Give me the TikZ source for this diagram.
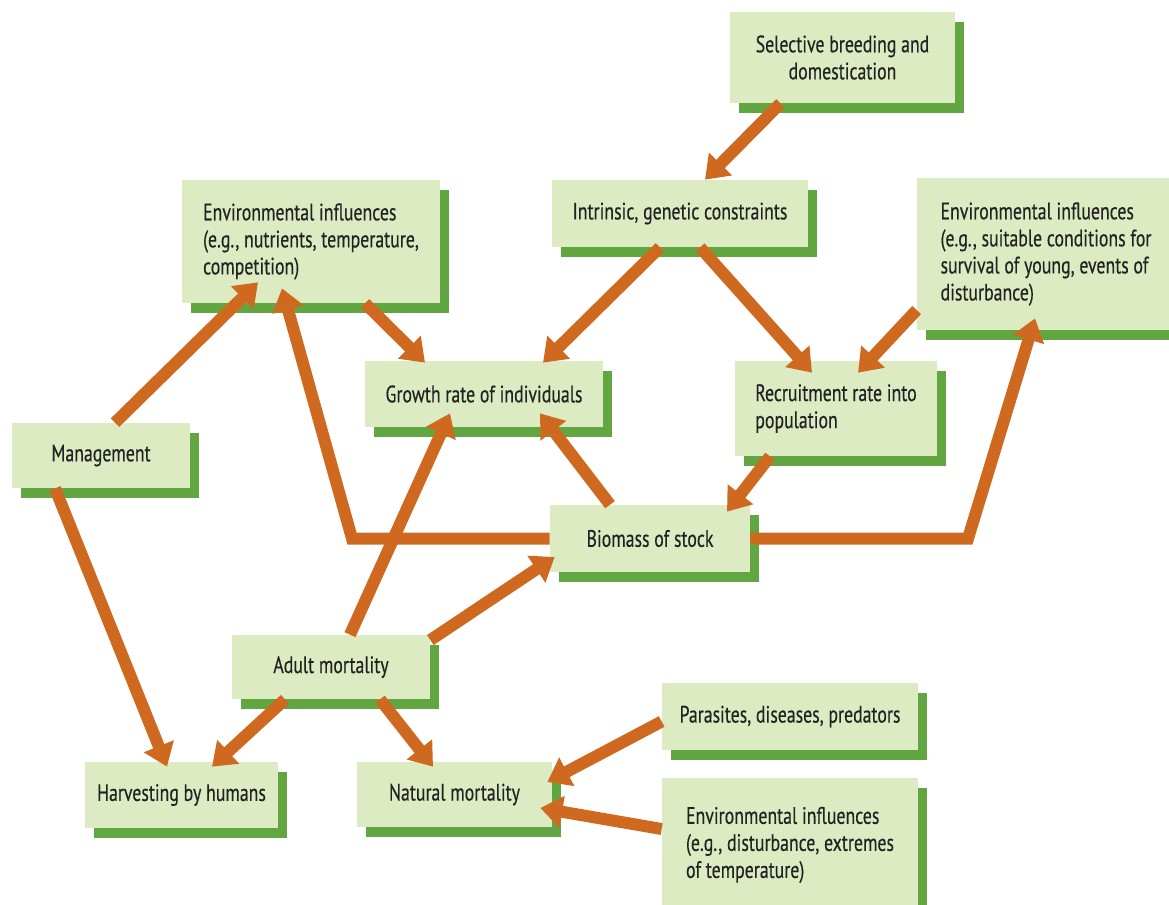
\documentclass[tikz,border=0pt]{standalone}
\usepackage{fontspec}
\setmainfont{PT Sans}[FakeStretch=0.75, FakeBold=0.35]
\usepackage{tikz}
\usetikzlibrary{arrows.meta,calc,shadows}
\definecolor{boxfill}{RGB}{220, 235, 194}
\definecolor{boxshade}{RGB}{98, 166, 66}
\definecolor{flow}{RGB}{208, 105, 32}
\definecolor{ink}{RGB}{34, 34, 34}

\begin{document}
\begin{tikzpicture}[
    x=0.02cm, y=-0.02cm,
    box/.style={rectangle, fill=boxfill, text=ink, inner sep=0pt,
                general shadow={fill=boxshade, shadow xshift=0.18cm, shadow yshift=-0.2cm},
                font=\fontsize{13.5}{15.4}\selectfont},
    wide/.style={box, align=left},
    arrow/.style={-{Triangle[length=0.44cm, width=0.62cm]}, line width=0.24cm, flow}
]
\useasboundingbox (0,0) rectangle (1169,904);

% Top row
\node[box, align=center, minimum width=4.5cm, minimum height=1.82cm] (sel) at (842.5,57.5)
    {Selective breeding and\\domestication};
\node[box, minimum width=5.12cm, minimum height=1.34cm] (gen) at (680,213.5)
    {Intrinsic, genetic constraints};
\node[wide, minimum width=5.16cm, minimum height=2.46cm] (envA) at (311,241.5)
    {Environmental influences\\(e.g., nutrients, temperature,\\competition)};
\node[wide, minimum width=5.16cm, minimum height=3.04cm] (envB) at (1046,254)
    {Environmental influences\\(e.g., suitable conditions for\\survival of young, events of\\disturbance)};

% Middle row
\node[box, minimum width=4.76cm, minimum height=1.32cm] (grow) at (484,394)
    {Growth rate of individuals};
\node[wide, minimum width=4.04cm, minimum height=1.9cm] (recr) at (836,408.5)
    {Recruitment rate into\\population};
\node[box, minimum width=3.56cm, minimum height=1.3cm] (mgmt) at (101,455.5)
    {Management};
\node[box, minimum width=4cm, minimum height=1.34cm] (bio) at (650,538.5)
    {Biomass of stock};

% Bottom row
\node[box, minimum width=3.96cm, minimum height=1.28cm] (adult) at (331,667)
    {Adult mortality};
\node[box, minimum width=3.86cm, minimum height=1.32cm] (harv) at (181.5,795)
    {Harvesting by humans};
\node[box, minimum width=3.9cm, minimum height=1.3cm] (nat) at (454.5,794.5)
    {Natural mortality};
\node[box, minimum width=5.12cm, minimum height=1.34cm] (para) at (790,716.5)
    {Parasites, diseases, predators};
\node[wide, minimum width=5.12cm, minimum height=2.68cm] (envC) at (790,845)
    {Environmental influences\\(e.g., disturbance, extremes\\of temperature)};

% Arrows
\draw[arrow] ($(sel.south)+(-62,0)$) -- ($(gen.north)+(25,0)$);
\draw[arrow] ($(gen.south)+(-20,0)$) -- ($(grow.north)+(59,2)$);
\draw[arrow] ($(gen.south)+(20,0)$) -- ($(recr.north)+(-24,12)$);
\draw[arrow] ($(envB.west)+(0,56)$) -- ($(recr.north)+(22,12)$);
\draw[arrow] ($(envA.south)+(54,0)$) -- ($(grow.north)+(-59,2)$);
\draw[arrow] ($(mgmt.north)+(14,0)$) -- ($(envA.south)+(-53,-21)$);
\draw[arrow] (bio.west) -- (352,538.5) -- ($(envA.south)+(-29,-15)$);
\draw[arrow] ($(adult.north)+(19,0)$) -- ($(grow.south)+(-34,-14)$);
\draw[arrow] ($(bio.north)+(-40,0)$) -- ($(grow.south)+(56,-14)$);
\draw[arrow] ($(recr.south)+(-66,0)$) -- ($(bio.north)+(77,7)$);
\draw[arrow] (bio.east) -- (968,538.5) -- ($(envB.south)+(-11,-12)$);
\draw[arrow] ($(adult.east)+(0,-27)$) -- ($(bio.west)+(5,18.5)$);
\draw[arrow] ($(mgmt.south)+(-46,0)$) -- ($(harv.north)+(-14.5,5)$);
\draw[arrow] ($(adult.south)+(-46,0)$) -- ($(harv.north)+(30.5,5)$);
\draw[arrow] ($(adult.south)+(49,0)$) -- ($(nat.north)+(-21.5,5)$);
\draw[arrow] ($(para.west)+(0,5)$) -- ($(nat.east)+(-5,-12.5)$);
\draw[arrow] ($(envC.west)+(0,-16)$) -- ($(nat.east)+(-12,13.5)$);
\end{tikzpicture}
\end{document}
